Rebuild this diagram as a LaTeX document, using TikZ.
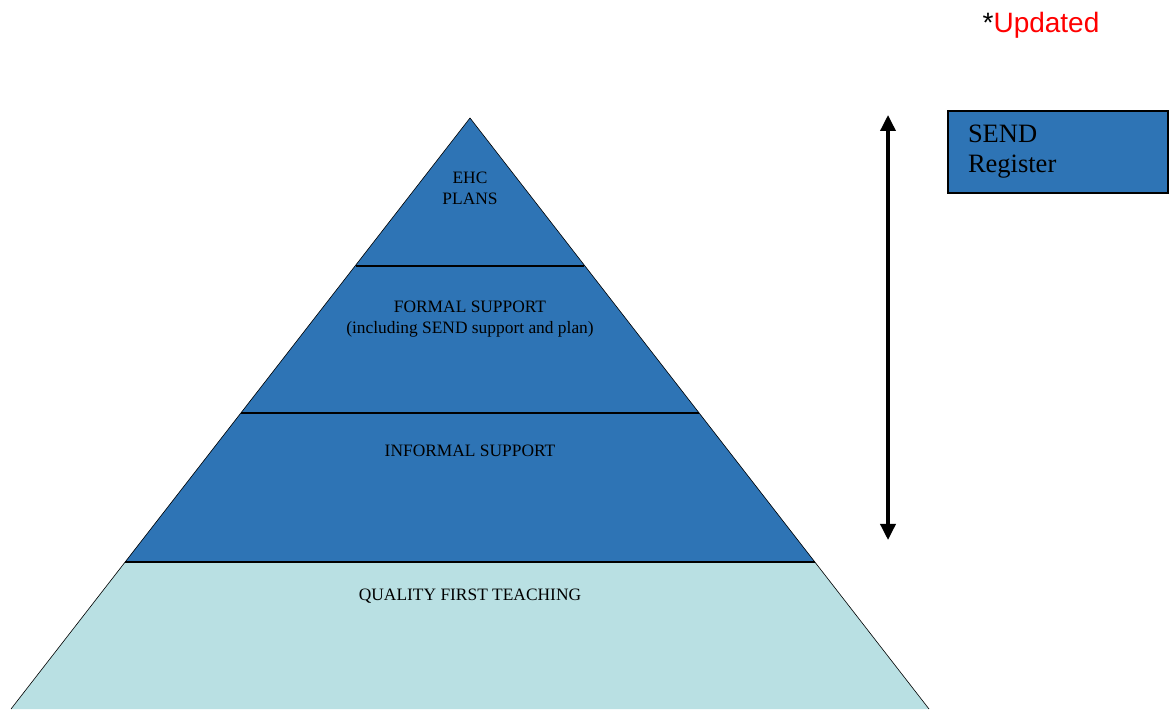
\documentclass[tikz,border=0pt]{standalone}
\usepackage{fontspec}
\setmainfont{Liberation Serif}
\newfontfamily\arialfont{Liberation Sans}
\usetikzlibrary{arrows.meta,positioning}
\definecolor{sendblue}{RGB}{46,116,181}
\definecolor{qftblue}{RGB}{185,224,227}
\tikzset{
  level/.style={font=\fontsize{17.4}{20.5}\selectfont, align=center, inner sep=0pt},
  divider/.style={line width=1.6pt}
}
\begin{document}
\begin{tikzpicture}[x=1pt,y=1pt]
            \useasboundingbox (0,0) rectangle (1174,709);
            % pyramid
            \fill[qftblue] (125,147) -- (815,147) -- (929,0) -- (11,0) -- cycle;
            \fill[sendblue] (470,591) -- (815,147) -- (125,147) -- cycle;
            \draw[line width=0.6pt] (11,0) -- (470,591) -- (929,0);
            \draw[divider] (356,443) -- (584,443);
            \draw[divider] (241,296) -- (699,296);
            \draw[divider] (125,147) -- (815,147);
            \node[level] (ehc) at (470,520.5) {EHC\\PLANS};
            \node[level] (formal) at (470,390) {FORMAL SUPPORT\\(including SEND support and plan)};
            \node[level] (informal) at (470,258) {INFORMAL SUPPORT};
            \node[level] (qft) at (470,113) {QUALITY FIRST TEACHING};
            % register
            \coordinate (top) at (888,594);
            \coordinate (bottom) at (888,169);
            \draw[line width=3.5pt,{Triangle[length=16pt,width=15pt]}-{Triangle[length=16pt,width=15pt]}] (bottom) -- (top);
            \node[draw,line width=1.6pt,fill=sendblue,minimum width=220pt,minimum height=82pt,text width=180pt,align=left,font=\fontsize{26.5}{30}\selectfont] (register) at (1058,557) {SEND\\Register};
            \node[font=\arialfont\fontsize{28}{32}\selectfont] (updated) at (1041,684) {*\textcolor{red}{Updated}};
        \end{tikzpicture}
\end{document}
